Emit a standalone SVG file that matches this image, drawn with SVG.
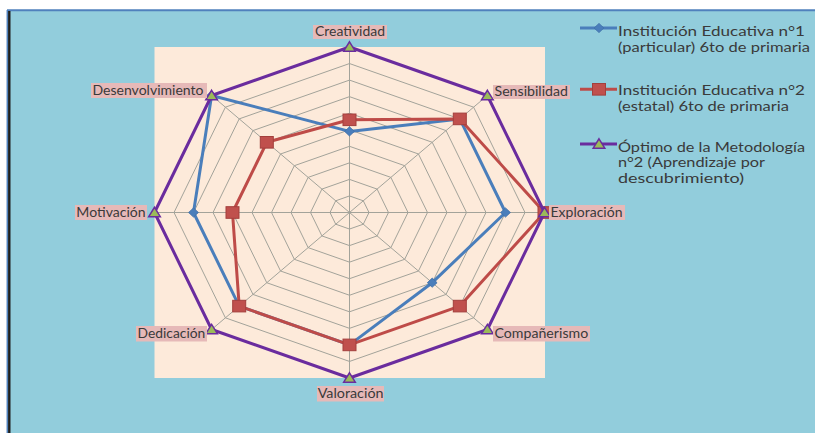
<svg xmlns="http://www.w3.org/2000/svg" width="815" height="433" viewBox="0 0 815 433">
<style>
.grid{fill:none;stroke:#A3A39A;stroke-width:1}
.lbl{fill:#E6B9B8}
.lt{font-family:Lato,"Open Sans","Liberation Sans",sans-serif;font-size:13px;fill:#3A3A3A}
.lg{font-family:Lato,"Open Sans","Liberation Sans",sans-serif;font-size:12.8px;fill:#3A3A3A}
.s1{fill:none;stroke:#4A7EBB;stroke-width:3;stroke-linejoin:round}
.s2{fill:none;stroke:#BE4B48;stroke-width:3;stroke-linejoin:round}
.s3{fill:none;stroke:#6A2C9E;stroke-width:3;stroke-linejoin:round}
</style>
<defs>
<path id="dia" d="M0,-4.6 L4.9,0 L0,4.6 L-4.9,0Z" fill="#4A7EBB" stroke="#3D6FA8" stroke-width="0.8"/>
<rect id="sq" x="-6.5" y="-5.8" width="13" height="11.6" fill="#C0504D" stroke="#A33F3C" stroke-width="1"/>
<path id="tri" d="M0,-5.2 L5.8,4.2 L-5.8,4.2Z" fill="#9BBB59" stroke="#6A2C9E" stroke-width="1.5" stroke-linejoin="miter"/>
</defs>

<g id="background">
<rect x="0" y="0" width="815" height="433" fill="#FFFFFF"/>
<rect x="7" y="10" width="808" height="423" fill="#92CDDC"/>
<line x1="7" y1="10.3" x2="815" y2="10.3" stroke="#4F81BD" stroke-width="2"/>
<line x1="7.3" y1="10" x2="7.3" y2="433" stroke="#4F81BD" stroke-width="1.5"/>
<line x1="9.3" y1="11" x2="9.3" y2="433" stroke="#1E1E1E" stroke-width="2.4"/>
<rect x="154.5" y="47" width="390.5" height="331" fill="#FDEADA"/>
</g>

<g id="grid">
<polygon class="grid" points="349.5,195.95 363.29,200.8 369,212.5 363.29,224.2 349.5,229.05 335.71,224.2 330,212.5 335.71,200.8"/>
<polygon class="grid" points="349.5,179.4 377.08,189.09 388.5,212.5 377.08,235.91 349.5,245.6 321.92,235.91 310.5,212.5 321.92,189.09"/>
<polygon class="grid" points="349.5,162.85 390.87,177.39 408,212.5 390.87,247.61 349.5,262.15 308.13,247.61 291,212.5 308.13,177.39"/>
<polygon class="grid" points="349.5,146.3 404.66,165.69 427.5,212.5 404.66,259.31 349.5,278.7 294.34,259.31 271.5,212.5 294.34,165.69"/>
<polygon class="grid" points="349.5,129.75 418.45,153.99 447,212.5 418.45,271.01 349.5,295.25 280.55,271.01 252,212.5 280.55,153.99"/>
<polygon class="grid" points="349.5,113.2 432.23,142.28 466.5,212.5 432.23,282.72 349.5,311.8 266.77,282.72 232.5,212.5 266.77,142.28"/>
<polygon class="grid" points="349.5,96.65 446.02,130.58 486,212.5 446.02,294.42 349.5,328.35 252.98,294.42 213,212.5 252.98,130.58"/>
<polygon class="grid" points="349.5,80.1 459.81,118.88 505.5,212.5 459.81,306.12 349.5,344.9 239.19,306.12 193.5,212.5 239.19,118.88"/>
<polygon class="grid" points="349.5,63.55 473.6,107.17 525,212.5 473.6,317.83 349.5,361.45 225.4,317.83 174,212.5 225.4,107.17"/>
<polygon class="grid" points="349.5,47 487.39,95.47 544.5,212.5 487.39,329.53 349.5,378 211.61,329.53 154.5,212.5 211.61,95.47"/>
<path class="grid" d="M349.5,212.5L349.5,47M349.5,212.5L487.39,95.47M349.5,212.5L544.5,212.5M349.5,212.5L487.39,329.53M349.5,212.5L349.5,378M349.5,212.5L211.61,329.53M349.5,212.5L154.5,212.5M349.5,212.5L211.61,95.47"/>
</g>

<g id="series1">
<polygon class="s1" points="349.5,131.4 459.8,118.9 505.5,212.5 432.2,282.7 349.5,344.9 239.2,306.1 193.5,212.5 211.6,95.5"/>
<use href="#dia" x="349.5" y="131.4"/><use href="#dia" x="459.8" y="118.9"/><use href="#dia" x="505.5" y="212.5"/><use href="#dia" x="432.2" y="282.7"/>
<use href="#dia" x="349.5" y="344.9"/><use href="#dia" x="239.2" y="306.1"/><use href="#dia" x="193.5" y="212.5"/><use href="#dia" x="211.6" y="95.5"/>
</g>
<g id="series2">
<polygon class="s2" points="349.5,119.8 459.8,118.9 544.5,212.5 459.8,306.1 349.5,344.9 239.2,306.1 232.5,212.5 266.8,142.3"/>
<use href="#sq" x="349.5" y="119.8"/><use href="#sq" x="459.8" y="118.9"/><use href="#sq" x="544.5" y="212.5"/><use href="#sq" x="459.8" y="306.1"/>
<use href="#sq" x="349.5" y="344.9"/><use href="#sq" x="239.2" y="306.1"/><use href="#sq" x="232.5" y="212.5"/><use href="#sq" x="266.8" y="142.3"/>
</g>
<g id="series3">
<polygon class="s3" points="349.5,47 487.39,95.47 544.5,212.5 487.39,329.53 349.5,378 211.61,329.53 154.5,212.5 211.61,95.47"/>
<use href="#tri" x="349.5" y="47"/><use href="#tri" x="487.39" y="95.47"/><use href="#tri" x="544.5" y="212.5"/><use href="#tri" x="487.39" y="329.53"/>
<use href="#tri" x="349.5" y="378"/><use href="#tri" x="211.61" y="329.53"/><use href="#tri" x="154.5" y="212.5"/><use href="#tri" x="211.61" y="95.47"/>
</g>

<g id="axis-labels">
<g id="lbl-creatividad"><rect class="lbl" x="313" y="25" width="74" height="14"/><text class="lt" x="315" y="36" textLength="70" lengthAdjust="spacingAndGlyphs">Creatividad</text></g>
<g id="lbl-sensibilidad"><rect class="lbl" x="493" y="85" width="77" height="14"/><text class="lt" x="494.5" y="96" textLength="73.5" lengthAdjust="spacingAndGlyphs">Sensibilidad</text></g>
<g id="lbl-exploracion"><rect class="lbl" x="549" y="205" width="76" height="15"/><text class="lt" x="550.5" y="216.5" textLength="72" lengthAdjust="spacingAndGlyphs">Exploración</text></g>
<g id="lbl-companerismo"><rect class="lbl" x="493" y="326" width="97" height="15.5"/><text class="lt" x="494.5" y="337.5" textLength="93.7" lengthAdjust="spacingAndGlyphs">Compañerismo</text></g>
<g id="lbl-valoracion"><rect class="lbl" x="317" y="386" width="67" height="15.5"/><text class="lt" x="317.7" y="397.5" textLength="65.8" lengthAdjust="spacingAndGlyphs">Valoración</text></g>
<g id="lbl-dedicacion"><rect class="lbl" x="136" y="326" width="71" height="15.5"/><text class="lt" x="137.5" y="337.5" textLength="67.8" lengthAdjust="spacingAndGlyphs">Dedicación</text></g>
<g id="lbl-motivacion"><rect class="lbl" x="75" y="205" width="72" height="15"/><text class="lt" x="76.3" y="216.5" textLength="69.4" lengthAdjust="spacingAndGlyphs">Motivación</text></g>
<g id="lbl-desenvolvimiento"><rect class="lbl" x="91" y="83" width="116" height="15"/><text class="lt" x="92.5" y="94.5" textLength="111" lengthAdjust="spacingAndGlyphs">Desenvolvimiento</text></g>
</g>

<g id="legend">
<g id="legend-1">
<line x1="580" y1="28" x2="617" y2="28" stroke="#4A7EBB" stroke-width="3"/>
<use href="#dia" x="599" y="28"/>
<text class="lg" x="618" y="36" textLength="187" lengthAdjust="spacingAndGlyphs">Institución Educativa n°1</text>
<text class="lg" x="618" y="51.5" textLength="192" lengthAdjust="spacingAndGlyphs">(particular) 6to de primaria</text>
</g>
<g id="legend-2">
<line x1="580" y1="89.3" x2="617" y2="89.3" stroke="#BE4B48" stroke-width="3"/>
<use href="#sq" x="599" y="89.3"/>
<text class="lg" x="618" y="95" textLength="187" lengthAdjust="spacingAndGlyphs">Institución Educativa n°2</text>
<text class="lg" x="618" y="110.5" textLength="171" lengthAdjust="spacingAndGlyphs">(estatal) 6to de primaria</text>
</g>
<g id="legend-3">
<line x1="580" y1="144" x2="617" y2="144" stroke="#6A2C9E" stroke-width="3"/>
<use href="#tri" x="599" y="144"/>
<text class="lg" x="618" y="151.5" textLength="187" lengthAdjust="spacingAndGlyphs">Óptimo de la Metodología</text>
<text class="lg" x="618" y="167" textLength="147" lengthAdjust="spacingAndGlyphs">n°2 (Aprendizaje por</text>
<text class="lg" x="618" y="182.5" textLength="126" lengthAdjust="spacingAndGlyphs">descubrimiento)</text>
</g>
</g>
</svg>
